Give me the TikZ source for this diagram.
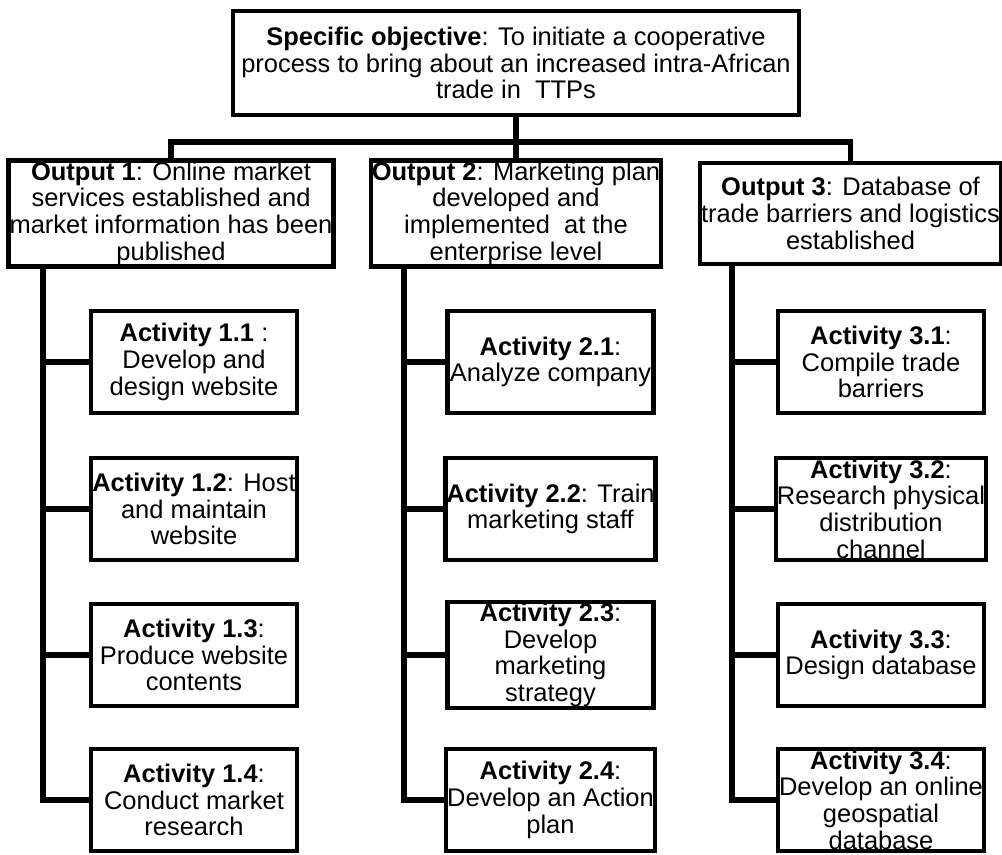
\documentclass[tikz,border=0pt]{standalone}
\usepackage{fontspec}
\setmainfont{Liberation Sans}
\usetikzlibrary{positioning}
\usetikzlibrary{shadows}

\begin{document}
\begin{tikzpicture}[
  x=0.02cm, y=-0.02cm,
  box/.style={draw, line width=2.5pt, fill=white, align=center, inner sep=0.5pt,
    font=\fontsize{14.5}{15.2}\selectfont,
    drop shadow={shadow xshift=0.3pt, shadow yshift=-1.4pt, fill=black, opacity=1}},
  objnode/.style={box, minimum width=11.32cm, minimum height=2.08cm},
  outnode/.style={box, minimum height=2.02cm},
  actnode/.style={box, minimum width=4.12cm, minimum height=2.04cm},
  link/.style={line width=3pt}
]
\useasboundingbox (0,0) rectangle (1002,855);

% Top: the objective
\node[objnode] (obj) at (516,63) {\textbf{Specific objective}: To initiate a cooperative\\process to bring about an increased intra-African\\trade in\ \ TTPs};

% Outputs
\node[outnode, minimum width=6.32cm] (out1) at (171,213.5) {\textbf{Output 1}: Online market\\services established and\\market information has been\\published};
\node[outnode, minimum width=5.56cm] (out2) at (516,213.5) {\textbf{Output 2}: Marketing plan\\developed and\\implemented\ \ at the\\enterprise level};
\node[outnode, minimum width=5.86cm] (out3) at (850.5,213.5) {\textbf{Output 3}: Database of\\trade barriers and logistics\\established};

% Bus from objective to outputs
\coordinate (bus) at (516,142);
\draw[link] (obj) -- (out2);
\draw[link] (out1) |- (bus) -| (out3);

% Activities of output 1
\node[actnode] (act11) at (194,362) {\textbf{Activity 1.1} :\\Develop and\\design website};
\node[actnode] (act12) at (194,509) {\textbf{Activity 1.2}: Host\\and maintain\\website};
\node[actnode] (act13) at (194,655) {\textbf{Activity 1.3}:\\Produce website\\contents};
\node[actnode] (act14) at (194,800) {\textbf{Activity 1.4}:\\Conduct market\\research};

% Activities of output 2
\node[actnode] (act21) at (550.5,362) {\textbf{Activity 2.1}:\\Analyze company};
\node[actnode] (act22) at (550.5,509) {\textbf{Activity 2.2}: Train\\marketing staff};
\node[actnode] (act23) at (550.5,655) {\textbf{Activity 2.3}:\\Develop\\marketing\\strategy};
\node[actnode] (act24) at (550.5,800) {\textbf{Activity 2.4}:\\Develop an Action\\plan};

% Activities of output 3
\node[actnode] (act31) at (881,362) {\textbf{Activity 3.1}:\\Compile trade\\barriers};
\node[actnode] (act32) at (881,509) {\textbf{Activity 3.2}:\\Research physical\\distribution\\channel};
\node[actnode] (act33) at (881,655) {\textbf{Activity 3.3}:\\Design database};
\node[actnode] (act34) at (881,800) {\textbf{Activity 3.4}:\\Develop an online\\geospatial\\database};

% Stems down the left of each column
\coordinate (s1) at (43,0);
\coordinate (s2) at (404,0);
\coordinate (s3) at (732,0);
\draw[link] (out1.south -| s1) |- (act14);
\draw[link] (out2.south -| s2) |- (act24);
\draw[link] (out3.south -| s3) |- (act34);

% Branches to the activities
\draw[link] (act11) -- (act11 -| s1);
\draw[link] (act12) -- (act12 -| s1);
\draw[link] (act13) -- (act13 -| s1);
\draw[link] (act21) -- (act21 -| s2);
\draw[link] (act22) -- (act22 -| s2);
\draw[link] (act23) -- (act23 -| s2);
\draw[link] (act31) -- (act31 -| s3);
\draw[link] (act32) -- (act32 -| s3);
\draw[link] (act33) -- (act33 -| s3);

\end{tikzpicture}
\end{document}
